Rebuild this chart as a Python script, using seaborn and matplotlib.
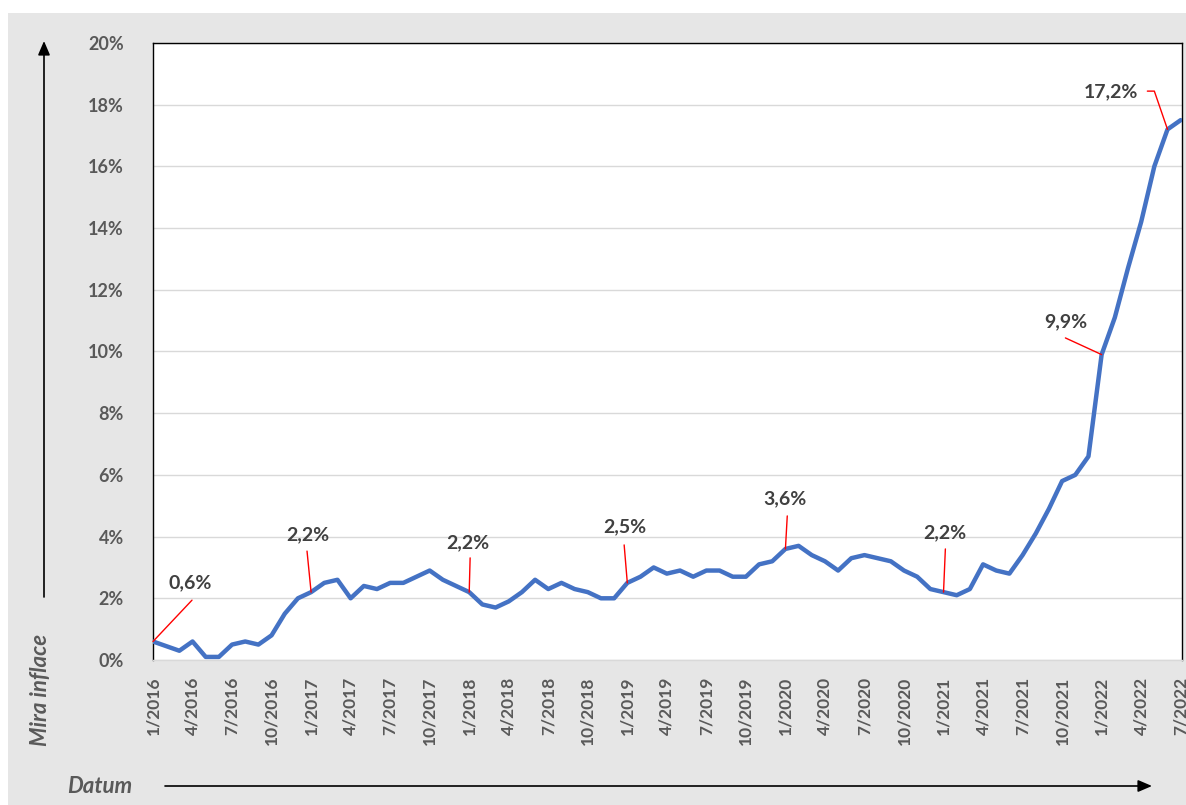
import matplotlib
matplotlib.use("Agg")
import matplotlib.pyplot as plt
import seaborn as sns
import pandas as pd
import numpy as np
from matplotlib.patches import Rectangle, FancyArrowPatch

# ---------------- data ----------------
years = [2016, 2017, 2018, 2019, 2020, 2021, 2022]
inflation = [
    # 2016
    0.6, 0.45, 0.3, 0.6, 0.1, 0.1, 0.5, 0.6, 0.5, 0.8, 1.5, 2.0,
    # 2017
    2.2, 2.5, 2.6, 2.0, 2.4, 2.3, 2.5, 2.5, 2.7, 2.9, 2.6, 2.4,
    # 2018
    2.2, 1.8, 1.7, 1.9, 2.2, 2.6, 2.3, 2.5, 2.3, 2.2, 2.0, 2.0,
    # 2019
    2.5, 2.7, 3.0, 2.8, 2.9, 2.7, 2.9, 2.9, 2.7, 2.7, 3.1, 3.2,
    # 2020
    3.6, 3.7, 3.4, 3.2, 2.9, 3.3, 3.4, 3.3, 3.2, 2.9, 2.7, 2.3,
    # 2021
    2.2, 2.1, 2.3, 3.1, 2.9, 2.8, 3.4, 4.1, 4.9, 5.8, 6.0, 6.6,
    # 2022
    9.9, 11.1, 12.7, 14.2, 16.0, 17.2, 17.5,
]
month_labels = [f"{m}/{y}" for y in years for m in range(1, 13)][:len(inflation)]
y_ticks = [0, 2, 4, 6, 8, 10, 12, 14, 16, 18, 20]
y_tick_labels = [f"{t}%" for t in y_ticks]
annotated_idx = [0, 12, 24, 36, 48, 60, 72, 77]

# layout of labels (text position, leader start) in data units
label_text_pos = [(2.8, 2.5), (11.77, 4.05), (23.9, 3.79), (35.84, 4.31),
                  (48.0, 5.22), (60.06, 4.12), (69.25, 10.96), (72.67, 18.41)]
leader_start = [(2.96, 1.94), (11.69, 3.53), (24.07, 3.31), (35.76, 3.73),
                (48.14, 4.67), (60.14, 3.60), (69.25, 10.44), (75.47, 18.44)]

df = pd.DataFrame({"idx": np.arange(len(inflation)), "val": inflation})

# ---------------- figure ----------------
sns.set_theme(style="white")
plt.rcParams["font.family"] = ["Lato", "DejaVu Sans"]

W, H = 1186, 805
fig = plt.figure(figsize=(W / 100, H / 100), dpi=100)
fig.patch.set_facecolor("white")
fig.patches.append(Rectangle((8 / W, 0), 1, (H - 13) / H, transform=fig.transFigure,
                             facecolor="#E6E6E6", edgecolor="none", zorder=-10))

ax = fig.add_axes([153 / W, (H - 660) / H, (1182 - 153) / W, (660 - 43) / H])
ax.set_facecolor("white")

sns.lineplot(data=df, x="idx", y="val", ax=ax, color="#4472C4", linewidth=3.2,
             solid_joinstyle="round", solid_capstyle="round", zorder=3)

ax.set_xlim(0, 78.1)
ax.set_ylim(0, 20)
ax.set_yticks(y_ticks)
ax.set_yticklabels(y_tick_labels, fontsize=13, fontweight="bold", color="#595959")
xt = list(range(0, len(inflation), 3))
ax.set_xticks(xt)
ax.set_xticklabels([month_labels[i] for i in xt], rotation=90, fontsize=12.5,
                   fontweight="bold", color="#595959")
ax.tick_params(axis="both", length=0)
ax.tick_params(axis="y", pad=21)
ax.tick_params(axis="x", pad=12)
ax.set_xlabel("")
ax.set_ylabel("")
ax.grid(axis="y", color="#D9D9D9", linewidth=1.0)
ax.grid(axis="x", visible=False)
for s in ["top", "left", "right"]:
    ax.spines[s].set_color("#000000")
    ax.spines[s].set_linewidth(1.0)
ax.spines["bottom"].set_color("#D9D9D9")
ax.spines["bottom"].set_linewidth(1.0)

# annotations
for k, i in enumerate(annotated_idx):
    v = inflation[i]
    txt = f"{v:.1f}%".replace(".", ",")
    tx, ty = label_text_pos[k]
    ax.text(tx, ty, txt, ha="center", va="center", fontsize=14, fontweight="bold",
            color="#404040", zorder=5)
    sx, sy = leader_start[k]
    if k == len(annotated_idx) - 1:
        cs = "angle,angleA=0,angleB=109,rad=0"
    else:
        cs = "arc3,rad=0"
    ax.annotate("", xy=(i, v), xytext=(sx, sy),
                arrowprops=dict(arrowstyle="-", color="#FF0000", lw=1.0,
                                shrinkA=0, shrinkB=0, connectionstyle=cs),
                zorder=4)

# axis arrows and titles
arrow_style = "-|>,head_length=0.7,head_width=0.3"
fig.add_artist(FancyArrowPatch(
    (44 / W, (H - 597) / H), (44 / W, (H - 41) / H), transform=fig.transFigure,
    arrowstyle=arrow_style, color="black", lw=1.2, mutation_scale=12,
    shrinkA=0, shrinkB=0))
fig.add_artist(FancyArrowPatch(
    (165 / W, (H - 786) / H), (1152 / W, (H - 786) / H), transform=fig.transFigure,
    arrowstyle=arrow_style, color="black", lw=1.2, mutation_scale=12,
    shrinkA=0, shrinkB=0))
fig.text(41 / W, (H - 690) / H, "Mira inflace", rotation=90, ha="center", va="center",
         fontsize=16, fontweight="bold", fontstyle="italic", color="#595959")
fig.text(100 / W, (H - 786) / H, "Datum", ha="center", va="center",
         fontsize=16, fontweight="bold", fontstyle="italic", color="#595959")

fig.savefig("out.png", dpi=100, facecolor=fig.get_facecolor())
